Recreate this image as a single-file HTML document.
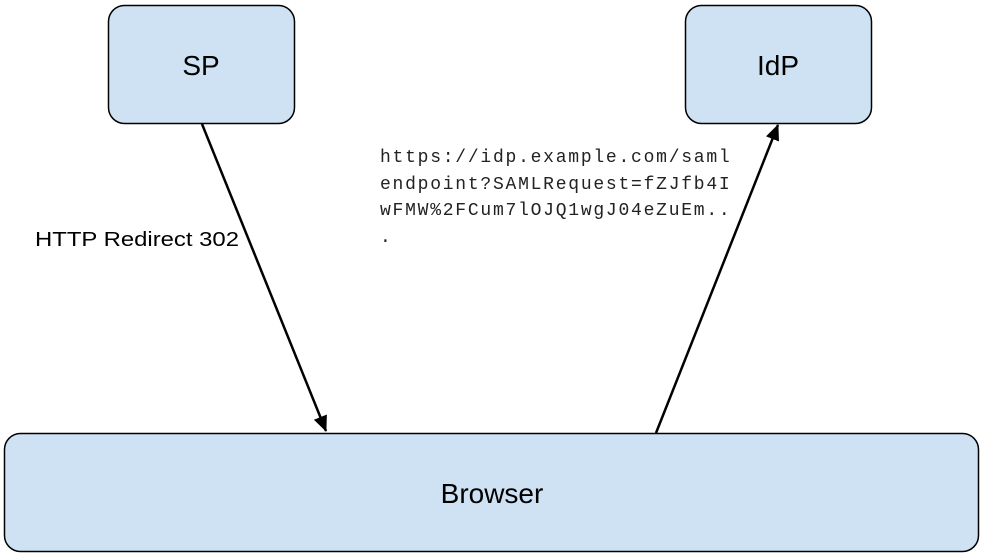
<!DOCTYPE html>
<html><head><style>body{margin:0;background:#fff}</style></head><body>
<svg width="983" height="554" xmlns="http://www.w3.org/2000/svg">
<defs><marker id="a" markerWidth="16" markerHeight="14" refX="15" refY="7" orient="auto" markerUnits="userSpaceOnUse"><path d="M0,0 L16,7 L0,14z" fill="#000"/></marker></defs>
<rect x="108.5" y="5.5" width="186" height="118" rx="16" fill="#cfe2f3" stroke="#000" stroke-width="1.5"/>
<rect x="685.5" y="5.5" width="186" height="118" rx="16" fill="#cfe2f3" stroke="#000" stroke-width="1.5"/>
<rect x="4.5" y="433.5" width="974" height="118" rx="16" fill="#cfe2f3" stroke="#000" stroke-width="1.5"/>
<g font-family="Liberation Sans, sans-serif" font-size="28" text-anchor="middle" fill="#000">
<text x="201" y="75">SP</text><text x="778" y="75">IdP</text><text x="492" y="503">Browser</text></g>
<line x1="202" y1="124" x2="326" y2="431" stroke="#000" stroke-width="2.5" marker-end="url(#a)"/>
<line x1="656" y1="433" x2="778" y2="125" stroke="#000" stroke-width="2.5" marker-end="url(#a)"/>
<text x="35" y="246" font-family="Liberation Sans, sans-serif" font-size="20" textLength="204" lengthAdjust="spacingAndGlyphs">HTTP Redirect 302</text>
<g font-family="Liberation Mono, monospace" font-size="18" letter-spacing="1.75" fill="#222">
<text x="380" y="162">https://idp.example.com/saml</text>
<text x="380" y="189">endpoint?SAMLRequest=fZJfb4I</text>
<text x="380" y="215">wFMW%2FCum7lOJQ1wgJ04eZuEm..</text>
<text x="380" y="242">.</text></g>
</svg>
</body></html>
